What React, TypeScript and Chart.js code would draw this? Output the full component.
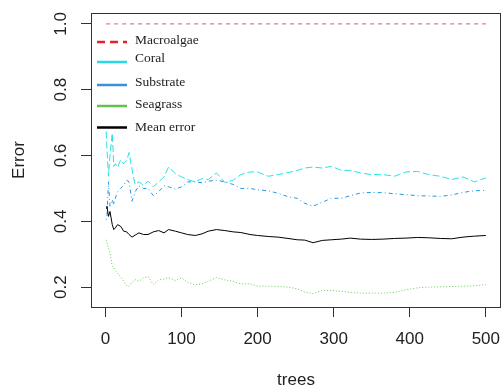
import React, { useEffect, useRef } from "react";
import { Chart, registerables } from "chart.js";

Chart.register(...registerables);

const trees = [1, 2, 4, 6, 9, 11, 13, 16, 20, 24, 28, 31, 35, 39, 44, 50, 56, 63, 70, 77, 83, 92, 100, 108, 118, 127, 135, 146, 157, 168, 178, 190, 200, 214, 227, 240, 252, 262, 273, 285, 297, 310, 322, 335, 350, 365, 380, 395, 410, 425, 440, 455, 470, 485, 500];

const macroalgae = trees.map(() => 1.0);

const coral = [0.673, 0.62, 0.537, 0.6, 0.668, 0.567, 0.575, 0.563, 0.587, 0.575, 0.585, 0.609, 0.557, 0.512, 0.52, 0.51, 0.522, 0.505, 0.52, 0.535, 0.565, 0.545, 0.535, 0.527, 0.52, 0.53, 0.527, 0.547, 0.518, 0.525, 0.542, 0.55, 0.55, 0.537, 0.542, 0.548, 0.555, 0.562, 0.565, 0.562, 0.567, 0.555, 0.555, 0.547, 0.542, 0.542, 0.537, 0.55, 0.552, 0.542, 0.537, 0.527, 0.535, 0.52, 0.532];

const substrate = [0.405, 0.415, 0.52, 0.446, 0.466, 0.45, 0.47, 0.49, 0.5, 0.51, 0.525, 0.52, 0.461, 0.49, 0.508, 0.5, 0.5, 0.478, 0.49, 0.508, 0.505, 0.498, 0.505, 0.52, 0.52, 0.517, 0.522, 0.525, 0.52, 0.512, 0.5, 0.5, 0.496, 0.493, 0.485, 0.475, 0.47, 0.455, 0.446, 0.458, 0.47, 0.47, 0.478, 0.486, 0.488, 0.487, 0.484, 0.481, 0.478, 0.477, 0.476, 0.48, 0.488, 0.493, 0.494];

const seagrass = [0.344, 0.335, 0.32, 0.305, 0.263, 0.26, 0.25, 0.243, 0.232, 0.218, 0.205, 0.202, 0.215, 0.223, 0.218, 0.228, 0.232, 0.208, 0.222, 0.225, 0.229, 0.22, 0.228, 0.215, 0.207, 0.21, 0.218, 0.229, 0.222, 0.218, 0.21, 0.21, 0.203, 0.203, 0.202, 0.2, 0.195, 0.185, 0.18, 0.19, 0.19, 0.187, 0.184, 0.182, 0.182, 0.182, 0.184, 0.192, 0.198, 0.2, 0.201, 0.202, 0.203, 0.204, 0.208];

const meanError = [0.44, 0.446, 0.415, 0.43, 0.39, 0.375, 0.38, 0.39, 0.385, 0.37, 0.368, 0.36, 0.352, 0.358, 0.365, 0.36, 0.36, 0.368, 0.372, 0.365, 0.375, 0.37, 0.365, 0.36, 0.357, 0.362, 0.37, 0.375, 0.372, 0.368, 0.366, 0.36, 0.357, 0.354, 0.352, 0.348, 0.344, 0.343, 0.335, 0.342, 0.344, 0.346, 0.349, 0.346, 0.345, 0.346, 0.348, 0.349, 0.351, 0.35, 0.348, 0.347, 0.352, 0.355, 0.357];

const xTicks = [0, 100, 200, 300, 400, 500];
const yTicks = [0.2, 0.4, 0.6, 0.8, 1.0];

const legendLabels = ["Macroalgae", "Coral", "Substrate", "Seagrass", "Mean error"];
const legendColors = ["#E8202A", "#28D8E5", "#3B8FDB", "#61C04F", "#000000"];

const SANS = "'Liberation Sans', Arial, sans-serif";

export default function App() {
  const ref = useRef<HTMLCanvasElement | null>(null);

  useEffect(() => {
    document.body.style.margin = "0";
    const canvas = ref.current!;
    const mk = (data: number[]) => trees.map((t, i) => ({ x: t, y: data[i] }));

    const framePlugin = {
      id: "frame",
      afterDatasetsDraw(chart: any) {
        const { ctx, chartArea: a } = chart;
        ctx.save();
        ctx.strokeStyle = "#333";
        ctx.lineWidth = 1;
        ctx.strokeRect(Math.round(a.left) + 0.5, Math.round(a.top) + 0.5, Math.round(a.right - a.left) - 1, Math.round(a.bottom - a.top));
        const rows = [
          { ly: 42, ty: 40 },
          { ly: 62, ty: 58 },
          { ly: 85, ty: 82 },
          { ly: 106, ty: 104 },
          { ly: 127.5, ty: 127 },
        ];
        ctx.font = "13.5px 'Liberation Serif', 'Times New Roman', serif";
        ctx.textBaseline = "middle";
        ctx.textAlign = "left";
        legendLabels.forEach((lab, i) => {
          ctx.beginPath();
          ctx.strokeStyle = legendColors[i];
          ctx.lineWidth = 2.5;
          ctx.setLineDash(i === 0 ? [8, 5] : []);
          ctx.moveTo(97, rows[i].ly);
          ctx.lineTo(127, rows[i].ly);
          ctx.stroke();
          ctx.setLineDash([]);
          ctx.fillStyle = "#222";
          ctx.fillText(lab, 135, rows[i].ty);
        });
        ctx.restore();
      },
    };

    const chart = new Chart(canvas, {
      type: "line",
      data: {
        datasets: [
          { label: "Mean error", data: mk(meanError), borderColor: "#000000", borderWidth: 1, pointRadius: 0, tension: 0 },
          { label: "Macroalgae", data: mk(macroalgae), borderColor: "#DF536B", borderWidth: 1, borderDash: [4, 4], pointRadius: 0, tension: 0 },
          { label: "Seagrass", data: mk(seagrass), borderColor: "#61D04F", borderWidth: 1, borderDash: [1, 2], pointRadius: 0, tension: 0 },
          { label: "Substrate", data: mk(substrate), borderColor: "#2297E6", borderWidth: 1, borderDash: [1, 3, 4, 3], pointRadius: 0, tension: 0 },
          { label: "Coral", data: mk(coral), borderColor: "#28E2E5", borderWidth: 1, borderDash: [7, 3], pointRadius: 0, tension: 0 },
        ],
      },
      options: {
        responsive: false,
        animation: false,
        devicePixelRatio: 1,
        layout: { padding: { top: 13, right: 1, left: 0, bottom: 0 } },
        plugins: { legend: { display: false }, tooltip: { enabled: false } },
        scales: {
          x: {
            type: "linear",
            min: -18.96,
            max: 519.96,
            afterBuildTicks: (s: any) => { s.ticks = xTicks.map((v) => ({ value: v })); },
            afterFit: (s: any) => { s.height = 82; s.paddingLeft = 0; s.paddingRight = 0; },
            border: { display: false },
            grid: { drawOnChartArea: false, drawTicks: true, tickLength: 10, color: "#333", lineWidth: 1 },
            ticks: { color: "#222", font: { family: SANS, size: 17 }, padding: 12, maxRotation: 0, autoSkip: false, callback: (v: any) => String(v) },
            title: { display: true, text: "trees", color: "#222", font: { family: SANS, size: 17, lineHeight: 1 }, padding: { top: 0, bottom: 0 } },
          },
          y: {
            type: "linear",
            min: 0.1397,
            max: 1.0331,
            afterBuildTicks: (s: any) => { s.ticks = yTicks.map((v) => ({ value: v })); },
            afterFit: (s: any) => { s.width = 91; s.paddingTop = 0; s.paddingBottom = 0; },
            border: { display: false },
            grid: { drawOnChartArea: false, drawTicks: true, tickLength: 10, color: "#333", lineWidth: 1 },
            ticks: { color: "#222", font: { family: SANS, size: 17 }, padding: 8, minRotation: 90, maxRotation: 90, crossAlign: "center", autoSkip: false, callback: (v: any) => Number(v).toFixed(1) },
            title: { display: true, text: "Error", color: "#222", font: { family: SANS, size: 17, lineHeight: 1 }, padding: { top: 10.5, bottom: 0 } },
          },
        },
      },
      plugins: [framePlugin],
    } as any);
    return () => chart.destroy();
  }, []);

  return <canvas ref={ref} width={502} height={389} style={{ display: "block" }} />;
}
